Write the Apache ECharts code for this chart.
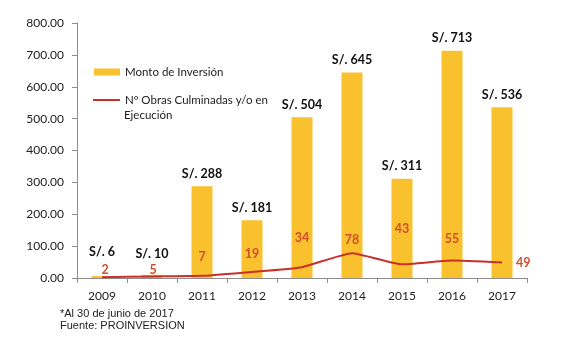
<!DOCTYPE html>
<html>
<head>
<meta charset="utf-8">
<script src="https://cdn.jsdelivr.net/npm/echarts@6/dist/echarts.min.js"></script>
<style>
  html, body { margin: 0; padding: 0; background: #fff; }
  #chart { width: 567px; height: 343px; }
</style>
</head>
<body>
<div id="chart"></div>
<script>
// Inversión y obras por año
const years = ['2009', '2010', '2011', '2012', '2013', '2014', '2015', '2016', '2017'];
const montoInversion = [6, 10, 288, 181, 504, 645, 311, 713, 536];
const numObras = [2, 5, 7, 19, 34, 78, 43, 55, 49];

// label placement tweaks (pixels) for each point
const barLabelOffsets = [[0, -12], [0, -8], [0, 0], [0, 0], [0, 0], [0, 0], [0, 0], [0, 0], [0, 0]];
const lineLabelOffsets = [[3, 3], [1, 4], [0, -8], [0, -7], [0, -19], [0, -3], [0, -25], [0, -11], [0, 0]];

const BAR = '#FAC12F';
const LINE = '#C8302A';
const LINE_LABEL = '#D24E2C';
const AXIS = '#8C8C8C';
const FONT = 'Lato, "Open Sans", sans-serif';

const chart = echarts.init(document.getElementById('chart'), null, { renderer: 'canvas' });

chart.setOption({
  animation: false,
  backgroundColor: '#fff',
  grid: { left: 77, right: 40, top: 23, bottom: 65 },
  legend: [
    {
      data: [{ name: 'Monto de Inversión', icon: 'rect' }],
      orient: 'vertical', left: 94, top: 66, padding: 0,
      itemWidth: 26, itemHeight: 7, itemGap: 0,
      textStyle: { fontFamily: FONT, fontSize: 11.5, color: '#222' }
    },
    {
      data: [{ name: 'Nº Obras Culminadas y/o en Ejecución', icon: 'rect' }],
      orient: 'vertical', left: 93, top: 94, padding: 0,
      itemWidth: 27, itemHeight: 2,
      formatter: () => 'Nº Obras Culminadas y/o en',
      textStyle: { fontFamily: FONT, fontSize: 11.5, color: '#222' }
    }
  ],
  xAxis: {
    type: 'category',
    data: years,
    axisLine: { lineStyle: { color: AXIS, width: 1 } },
    axisTick: { show: true, alignWithLabel: false, length: 5, lineStyle: { color: AXIS } },
    axisLabel: { fontFamily: FONT, fontSize: 12, color: '#222', margin: 12 }
  },
  yAxis: {
    type: 'value',
    min: 0, max: 800, interval: 100,
    splitLine: { show: false },
    axisLine: { show: true, lineStyle: { color: AXIS } },
    axisTick: { show: true, length: 5, lineStyle: { color: AXIS } },
    axisLabel: {
      fontFamily: FONT, fontSize: 12, color: '#222', margin: 13,
      formatter: v => v.toFixed(2)
    }
  },
  series: [
    {
      name: 'Monto de Inversión',
      type: 'bar',
      barWidth: 21,
      itemStyle: { color: BAR },
      data: montoInversion.map((v, i) => ({
        value: v,
        label: { offset: barLabelOffsets[i] }
      })),
      label: {
        show: true, position: 'top', distance: 6,
        fontFamily: FONT, fontSize: 12.5, fontWeight: 'bold', color: '#111',
        formatter: p => 'S/. ' + p.value
      },
      z: 2
    },
    {
      name: 'Nº Obras Culminadas y/o en Ejecución',
      type: 'line',
      smooth: 0.15,
      symbol: 'circle',
      symbolSize: 0,
      showSymbol: true,
      lineStyle: { color: LINE, width: 2 },
      itemStyle: { color: LINE },
      data: numObras.map((v, i) => ({
        value: v,
        label: i === numObras.length - 1
          ? { position: 'right', distance: 14, offset: [0, 1] }
          : { position: 'top', offset: lineLabelOffsets[i] }
      })),
      label: {
        show: true, distance: 4,
        fontFamily: FONT, fontSize: 12.5, fontWeight: 'bold', color: LINE_LABEL
      },
      z: 3
    }
  ],
  graphic: [
    {
      type: 'text', left: 124, top: 109,
      style: {
        text: 'Ejecución',
        font: '11.5px Lato, "Open Sans", sans-serif',
        fill: '#222'
      }
    },
    {
      type: 'text', left: 60, top: 308,
      style: {
        text: '*Al 30 de junio de 2017\nFuente: PROINVERSION',
        font: '11px "Liberation Sans", Arial, sans-serif',
        fill: '#222', lineHeight: 12
      }
    }
  ]
});
</script>
</body>
</html>
